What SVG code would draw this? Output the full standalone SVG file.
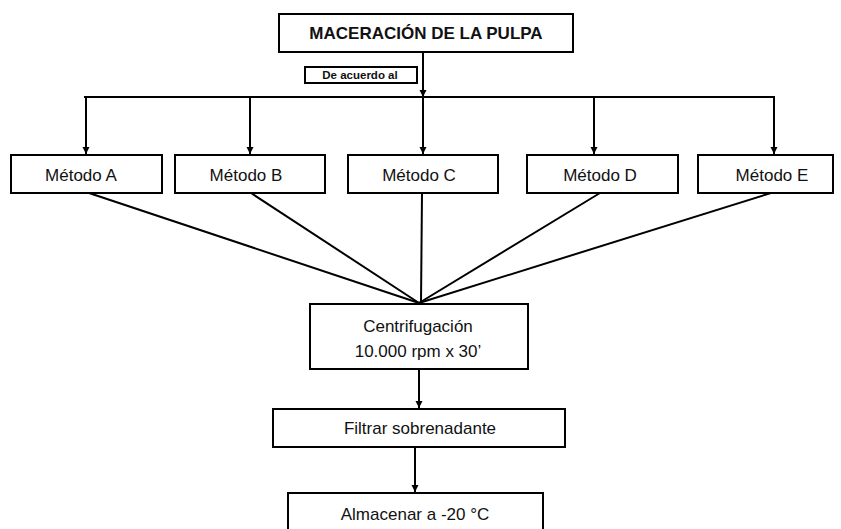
<svg xmlns="http://www.w3.org/2000/svg" width="841" height="529" viewBox="0 0 841 529">
<defs>
<marker id="ah" markerWidth="8" markerHeight="8" refX="7" refY="4" orient="auto" markerUnits="userSpaceOnUse">
<path d="M0,0.5 L7,4 L0,7.5 Z" fill="#000"/>
</marker>
<style>
.box{fill:#fff;stroke:#000;stroke-width:2}
.t{font-family:"Liberation Sans",Arial,sans-serif;font-size:17px;fill:#111;text-anchor:middle}
.b{font-weight:bold}
.s{font-size:11.5px;font-weight:bold}
.ln{stroke:#000;stroke-width:2;fill:none}
</style>
</defs>
<rect width="841" height="529" fill="#fff"/>
<g id="connectors">
<line class="ln" x1="423" y1="52" x2="423" y2="97" marker-end="url(#ah)"/>
<line class="ln" x1="84" y1="97" x2="775" y2="97"/>
<line class="ln" x1="86" y1="97" x2="86" y2="154" marker-end="url(#ah)"/>
<line class="ln" x1="250" y1="97" x2="250" y2="154" marker-end="url(#ah)"/>
<line class="ln" x1="423" y1="97" x2="423" y2="154" marker-end="url(#ah)"/>
<line class="ln" x1="594" y1="97" x2="594" y2="154" marker-end="url(#ah)"/>
<line class="ln" x1="774" y1="97" x2="774" y2="154" marker-end="url(#ah)"/>
<line class="ln" x1="89" y1="193" x2="419" y2="303"/>
<line class="ln" x1="251" y1="193" x2="419" y2="303"/>
<line class="ln" x1="422" y1="193" x2="421" y2="303"/>
<line class="ln" x1="600" y1="193" x2="419" y2="303"/>
<line class="ln" x1="771" y1="193" x2="419" y2="303"/>
<line class="ln" x1="419" y1="369" x2="419" y2="408" marker-end="url(#ah)"/>
<line class="ln" x1="415" y1="447" x2="415" y2="492" marker-end="url(#ah)"/>
</g>
<g id="maceracion">
<rect class="box" x="279" y="14" width="294" height="38"/>
<text class="t b" x="426" y="39">MACERACIÓN DE LA PULPA</text>
</g>
<g id="de-acuerdo">
<rect class="box" x="305" y="67" width="112" height="16" stroke-width="1.5"/>
<text class="t s" x="360" y="79">De acuerdo al</text>
</g>
<g id="metodo-a">
<rect class="box" x="11" y="155" width="151" height="38"/>
<text class="t" x="81" y="181">Método A</text>
</g>
<g id="metodo-b">
<rect class="box" x="175" y="155" width="150" height="38"/>
<text class="t" x="246" y="181">Método B</text>
</g>
<g id="metodo-c">
<rect class="box" x="348" y="155" width="150" height="38"/>
<text class="t" x="419" y="181">Método C</text>
</g>
<g id="metodo-d">
<rect class="box" x="527" y="155" width="151" height="38"/>
<text class="t" x="600" y="181">Método D</text>
</g>
<g id="metodo-e">
<rect class="box" x="698" y="155" width="135" height="38"/>
<text class="t" x="772" y="181">Método E</text>
</g>
<g id="centrifugacion">
<rect class="box" x="310" y="304" width="218" height="65"/>
<text class="t" x="418" y="332">Centrifugación</text>
<text class="t" x="418" y="357">10.000 rpm x 30’</text>
</g>
<g id="filtrar">
<rect class="box" x="273" y="409" width="292" height="38"/>
<text class="t" x="420" y="434">Filtrar sobrenadante</text>
</g>
<g id="almacenar">
<rect class="box" x="288" y="493" width="255" height="45"/>
<text class="t" x="415" y="520">Almacenar a -20 °C</text>
</g>
</svg>
